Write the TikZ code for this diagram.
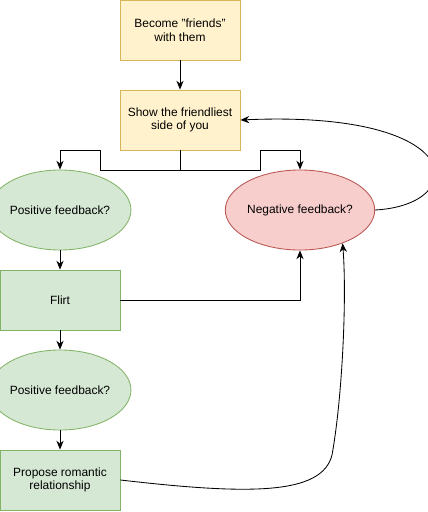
\documentclass[tikz,border=0pt]{standalone}
\usepackage{fontspec}
\setmainfont{Liberation Sans}
\usepackage{xcolor}
\usetikzlibrary{positioning, arrows.meta, shapes.geometric}

\definecolor{yfill}{HTML}{FFF2CC}
\definecolor{ydraw}{HTML}{D6B656}
\definecolor{gfill}{HTML}{D5E8D4}
\definecolor{gdraw}{HTML}{82B366}
\definecolor{rfill}{HTML}{F8CECC}
\definecolor{rdraw}{HTML}{B85450}

\begin{document}
\begin{tikzpicture}[
    x=0.025cm, y=-0.025cm,
    every node/.style={font=\fontsize{8.5}{9.6}\selectfont, align=center},
    stepbox/.style={rectangle, draw=ydraw, fill=yfill, line width=0.6pt, minimum width=3cm, minimum height=1.5cm, inner sep=0pt},
    actbox/.style={rectangle, draw=gdraw, fill=gfill, line width=0.6pt, minimum width=3cm, minimum height=1.5cm, inner sep=0pt},
    check/.style={ellipse, draw=gdraw, fill=gfill, line width=0.6pt, minimum width=3cm, minimum height=2cm, inner sep=0pt},
    fail/.style={ellipse, draw=rdraw, fill=rfill, line width=0.6pt, minimum width=3cm, minimum height=2cm, inner sep=0pt},
    flow/.style={-{Stealth[length=2.2mm, width=1.8mm]}, line width=0.6pt},
    link/.style={line width=0.6pt}
]

\useasboundingbox (0,0) rectangle (427,512);

\node[stepbox] (friends) at (180, 30) {Become "friends"\\with them};
\node[stepbox] (show) at (180, 120) {Show the friendliest\\side of you};
\node[check] (pos1) at (60, 210) {Positive feedback?};
\node[fail] (neg) at (300, 210) {Negative feedback?};
\node[actbox] (flirt) at (60, 300) {Flirt};
\node[check] (pos2) at (60, 390) {Positive feedback?};
\node[actbox] (propose) at (60, 480) {Propose romantic\\relationship};

\draw[flow] (friends) -- (show);
\draw[flow] (show.south) |- (100, 170) |- (60, 150) -- (pos1.north);
\draw[flow] (show.south) |- (260, 170) |- (300, 150) -- (neg.north);
\draw[flow] (neg.east) .. controls (470, 205) and (470, 110) .. (show.east);
\draw[flow] (pos1) -- (flirt);
\draw[flow] (flirt.east) -| (neg.south);
\draw[flow] (flirt) -- (pos2);
\draw[flow] (pos2) -- (propose);
\draw[flow] (propose.east) .. controls (250, 495) and (322, 495) .. (332, 455) .. controls (342, 400) and (347, 300) .. (neg.-38);

\end{tikzpicture}
\end{document}
